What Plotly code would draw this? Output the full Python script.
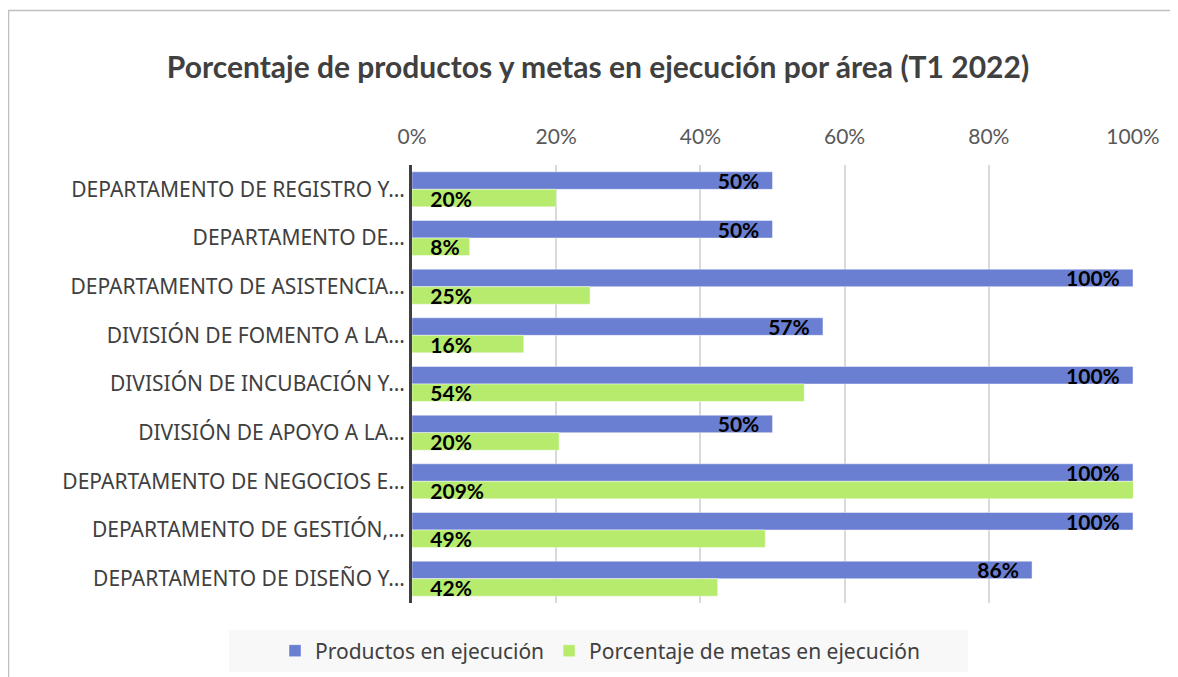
import plotly.graph_objects as go

# Areas (truncated as in the source chart)
areas = [
    "DEPARTAMENTO DE REGISTRO Y…",
    "DEPARTAMENTO DE…",
    "DEPARTAMENTO DE ASISTENCIA…",
    "DIVISIÓN DE FOMENTO A LA…",
    "DIVISIÓN DE INCUBACIÓN Y…",
    "DIVISIÓN DE APOYO A LA…",
    "DEPARTAMENTO DE NEGOCIOS E…",
    "DEPARTAMENTO DE GESTIÓN,…",
    "DEPARTAMENTO DE DISEÑO Y…",
]
productos = [0.50, 0.50, 1.00, 0.57, 1.00, 0.50, 1.00, 1.00, 0.86]
metas = [0.20, 0.08, 0.247, 0.155, 0.544, 0.204, 2.09, 0.49, 0.424]

BLUE = "#6a7ed2"
GREEN = "#b6eb6e"

fig = go.Figure()
fig.add_trace(go.Bar(
    y=areas, x=productos, orientation="h", name="Productos en ejecución",
    marker=dict(color=BLUE, line=dict(color="rgba(255,255,255,0.45)", width=1)),
    texttemplate="%{x:.0%}" + "\u00a0" * 2, textposition="inside", insidetextanchor="end",
    constraintext="none",
    textfont=dict(family="Lato", size=21, color="black", weight="bold"),
))
fig.add_trace(go.Bar(
    y=areas, x=metas, orientation="h", name="Porcentaje de metas en ejecución",
    marker=dict(color=GREEN, line=dict(color="rgba(255,255,255,0.45)", width=1)),
    texttemplate="\u00a0" * 3 + "%{x:.0%}", textposition="inside", insidetextanchor="start",
    constraintext="none",
    textfont=dict(family="Lato", size=21, color="black", weight="bold"),
))

# the page adds an 8px body margin, so figure coords = screen coords - 8
OFF = 8
L, R, T, B = 412 - OFF, 1133 - OFF, 165 - OFF, 603 - OFF
W, H = R - L, B - T
def px_x(p):
    return (p - OFF - L) / W
def px_y(p):
    return (B - (p - OFF)) / H

fig.update_layout(
    width=1178, height=677,
    margin=dict(l=L, r=1178 - R, t=T, b=677 - B),
    barmode="group", bargap=0.28, bargroupgap=0,
    plot_bgcolor="white", paper_bgcolor="white",
    font=dict(family="Noto Sans", color="#404040"),
    title=dict(
        text="<b>Porcentaje de productos y metas en ejecución por área (T1 2022)</b>",
        x=(598 - OFF) / 1178, xanchor="center", y=1 - (67 - OFF) / 677, yanchor="middle",
        font=dict(family="Lato", size=30, color="#404040"),
    ),
    legend=dict(
        orientation="h", x=px_x(600), xanchor="center", y=px_y(651), yanchor="middle",
        bgcolor="rgba(0,0,0,0)", font=dict(family="Noto Sans", size=21, color="#404040"),
        itemwidth=30, traceorder="normal",
    ),
    shapes=[
        dict(type="rect", xref="paper", yref="paper", layer="below",
             x0=px_x(229), x1=px_x(968), y0=px_y(630), y1=px_y(672),
             fillcolor="#f8f8f8", line=dict(width=0)),
        dict(type="rect", xref="paper", yref="paper", layer="below",
             x0=px_x(8.5), x1=px_x(1200), y0=px_y(10.5), y1=px_y(720),
             fillcolor="rgba(0,0,0,0)", line=dict(color="#bfbfbf", width=1.5)),
    ],
)
fig.update_xaxes(
    side="top", range=[0, 1], tickformat=".0%", dtick=0.2,
    showgrid=True, gridcolor="#d9d9d9", gridwidth=1.5,
    zeroline=False, showline=False, ticklabelstandoff=16,
    tickfont=dict(family="Lato", size=21, color="#595959"),
)
fig.update_yaxes(
    autorange="reversed", showline=True, linecolor="#404040", linewidth=3,
    showgrid=False, ticklabelstandoff=0,
    tickfont=dict(family="Noto Sans", size=21, color="#404040"),
)

fig.write_html("out.html")
